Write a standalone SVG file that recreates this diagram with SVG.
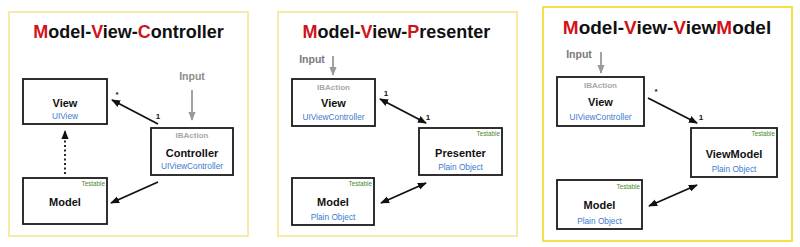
<svg xmlns="http://www.w3.org/2000/svg" width="800" height="247" viewBox="0 0 800 247">
<defs>
<marker id="ah" viewBox="0 0 10 8" refX="9" refY="4" markerWidth="9" markerHeight="7.5" markerUnits="userSpaceOnUse" orient="auto-start-reverse">
<path d="M0,0 L10,4 L0,8 Z" fill="#111"/>
</marker>
<marker id="ahg" viewBox="0 0 10 8" refX="9" refY="4" markerWidth="9" markerHeight="7.5" markerUnits="userSpaceOnUse" orient="auto">
<path d="M0,0 L10,4 L0,8 Z" fill="#999"/>
</marker>
</defs>
<style>
text{font-family:"Liberation Sans",Arial,sans-serif}
.panel{fill:#fff;stroke:#f5e48a;stroke-width:1.5}
.box{fill:#fff;stroke:#1a1a1a;stroke-width:1.8}
.title{font-size:18px;font-weight:bold;fill:#111;text-anchor:middle}
.r{fill:#d0141c}
.name{font-size:11px;font-weight:bold;fill:#111;text-anchor:middle}
.sub{font-size:8.3px;fill:#3a7bd0;text-anchor:middle}
.ib{font-size:8px;font-weight:bold;fill:#a8a8a8;text-anchor:middle}
.test{font-size:6.3px;fill:#4a8a2a;text-anchor:end}
.input{font-size:10.5px;font-weight:bold;fill:#8c8c8c;text-anchor:middle}
.lbl{font-size:8px;font-weight:bold;fill:#111;text-anchor:middle}
.conn{stroke:#111;stroke-width:1.8;fill:none}
.gin{stroke:#999;stroke-width:1.8;fill:none}
</style>
<rect width="800" height="247" fill="#fff"/>
<rect class="panel" x="9" y="12" width="239" height="224"/>
<rect class="panel" x="278" y="12" width="239" height="224"/>
<rect class="panel" x="543" y="7" width="249" height="234" style="stroke:#f6df4a;stroke-width:2"/>

<text class="title" x="128.5" y="38"><tspan class="r">M</tspan>odel-<tspan class="r">V</tspan>iew-<tspan class="r">C</tspan>ontroller</text>
<text class="title" x="396.5" y="38"><tspan class="r">M</tspan>odel-<tspan class="r">V</tspan>iew-<tspan class="r">P</tspan>resenter</text>
<text class="title" x="667" y="34" style="font-size:19px"><tspan class="r">M</tspan>odel-<tspan class="r">V</tspan>iew-<tspan class="r">V</tspan>iew<tspan class="r">M</tspan>odel</text>

<g id="connectors">
<text class="input" x="192" y="80">Input</text>
<line class="gin" x1="192" y1="90" x2="192" y2="120" marker-end="url(#ahg)"/>
<line class="conn" x1="158" y1="124" x2="112" y2="100" marker-end="url(#ah)"/>
<text class="lbl" x="158" y="119">1</text>
<text class="lbl" x="117" y="97">*</text>
<line class="conn" x1="65" y1="174" x2="65" y2="131" stroke-dasharray="2,2.5" stroke-width="2" marker-end="url(#ah)"/>
<line class="conn" x1="158" y1="182" x2="111" y2="203" marker-end="url(#ah)"/>

<text class="input" x="312" y="63" style="fill:#7a7a7a">Input</text>
<line class="gin" x1="333" y1="56" x2="333" y2="75" marker-end="url(#ahg)"/>
<line class="conn" x1="380" y1="99" x2="426" y2="123" marker-start="url(#ah)" marker-end="url(#ah)"/>
<text class="lbl" x="386" y="96">1</text>
<text class="lbl" x="428" y="120">1</text>
<line class="conn" x1="381" y1="203" x2="426" y2="183" marker-start="url(#ah)" marker-end="url(#ah)"/>

<text class="input" x="579" y="58" style="fill:#7a7a7a">Input</text>
<line class="gin" x1="601" y1="52" x2="601" y2="73" marker-end="url(#ahg)"/>
<line class="conn" x1="648" y1="98" x2="697" y2="123" marker-end="url(#ah)"/>
<text class="lbl" x="656" y="94">*</text>
<text class="lbl" x="701" y="120">1</text>
<line class="conn" x1="649" y1="206" x2="697" y2="185" marker-start="url(#ah)" marker-end="url(#ah)"/>
</g>

<g id="mvc-view">
<rect class="box" x="23" y="79" width="84" height="45"/>
<text class="name" x="65" y="107">View</text>
<text class="sub" x="65" y="119">UIView</text>
</g>
<g id="mvc-controller">
<rect class="box" x="151" y="128" width="82" height="47"/>
<text class="ib" x="192" y="138">IBAction</text>
<text class="name" x="192" y="157">Controller</text>
<text class="sub" x="192" y="169">UIViewController</text>
</g>
<g id="mvc-model">
<rect class="box" x="23" y="178" width="84" height="46"/>
<text class="test" x="105" y="186">Testable</text>
<text class="name" x="65" y="206">Model</text>
</g>

<g id="mvp-view">
<rect class="box" x="292" y="79" width="83" height="47"/>
<text class="ib" x="333.5" y="90">IBAction</text>
<text class="name" x="333.5" y="107">View</text>
<text class="sub" x="333.5" y="120">UIViewController</text>
</g>
<g id="mvp-presenter">
<rect class="box" x="419" y="128" width="83" height="47"/>
<text class="test" x="500" y="136">Testable</text>
<text class="name" x="460.5" y="157">Presenter</text>
<text class="sub" x="460.5" y="170">Plain Object</text>
</g>
<g id="mvp-model">
<rect class="box" x="292" y="178" width="82" height="47"/>
<text class="test" x="372" y="186">Testable</text>
<text class="name" x="333" y="206">Model</text>
<text class="sub" x="333" y="220">Plain Object</text>
</g>

<g id="mvvm-view">
<rect class="box" x="557" y="77" width="87" height="49"/>
<text class="ib" x="600.5" y="88">IBAction</text>
<text class="name" x="600.5" y="106">View</text>
<text class="sub" x="600.5" y="120">UIViewController</text>
</g>
<g id="mvvm-viewmodel">
<rect class="box" x="691" y="128" width="86" height="49"/>
<text class="test" x="775" y="136">Testable</text>
<text class="name" x="734" y="158">ViewModel</text>
<text class="sub" x="734" y="172">Plain Object</text>
</g>
<g id="mvvm-model">
<rect class="box" x="557" y="180" width="85" height="49"/>
<text class="test" x="640" y="189">Testable</text>
<text class="name" x="599.5" y="209">Model</text>
<text class="sub" x="599.5" y="224">Plain Object</text>
</g>
</svg>
